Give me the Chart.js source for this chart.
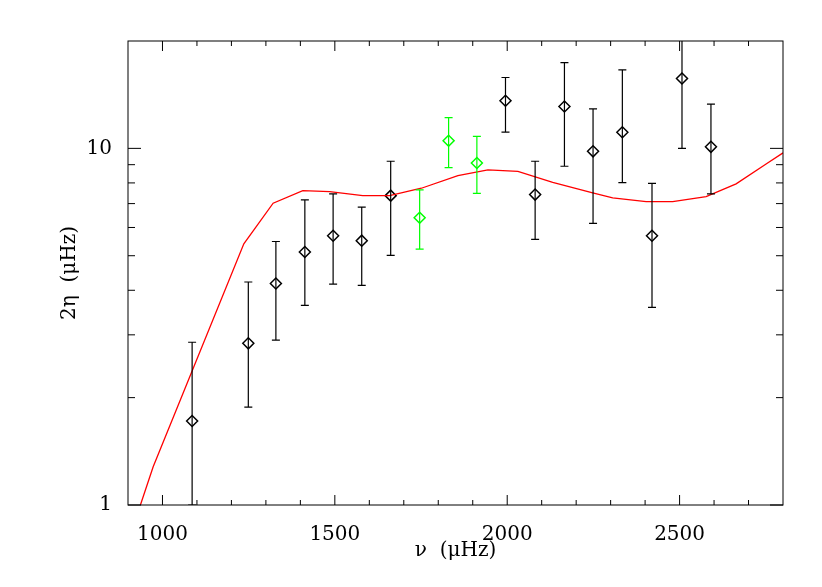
<!DOCTYPE html>
<html>
<head>
<meta charset="utf-8">
<script src="https://cdn.jsdelivr.net/npm/chart.js@4.4.0/dist/chart.umd.min.js"></script>
<style>
  body { margin: 0; background: #fff; }
  canvas { display: block; }
</style>
</head>
<body>
<canvas id="chart" width="822" height="587"></canvas>
<script>
// observed widths (black), with error bar limits
const freqBlack = [1086, 1249, 1329, 1413, 1495, 1578, 1662, 1995, 2081, 2166, 2249, 2334, 2420, 2507, 2591];
const widthBlack = [1.72, 2.84, 4.18, 5.12, 5.69, 5.51, 7.37, 13.6, 7.42, 13.1, 9.81, 11.1, 5.69, 15.7, 10.1];
const lowBlack = [1.0, 1.88, 2.90, 3.63, 4.16, 4.13, 5.01, 11.1, 5.56, 8.91, 6.16, 8.02, 3.58, 10.0, 7.45];
const highBlack = [2.86, 4.22, 5.48, 7.17, 7.45, 6.84, 9.20, 15.8, 9.20, 17.4, 12.9, 16.6, 7.98, 24.6, 13.3];

// green points
const freqGreen = [1746, 1830, 1912];
const widthGreen = [6.39, 10.5, 9.10];
const lowGreen = [5.22, 8.83, 7.48];
const highGreen = [7.65, 12.2, 10.8];

// model curve (red)
const freqModel = [936, 973, 1236, 1321, 1407, 1485, 1581, 1659, 1751, 1857, 1944, 2031, 2132, 2248, 2306, 2403, 2480, 2577, 2664, 2751, 2800];
const widthModel = [1.0, 1.28, 5.40, 7.02, 7.61, 7.56, 7.37, 7.37, 7.73, 8.39, 8.70, 8.62, 8.03, 7.50, 7.26, 7.09, 7.09, 7.32, 7.95, 9.04, 9.71];

// axes
const xMin = 900, xMax = 2800;
const yMin = 1, yMax = 20;
const xTicks = [1000, 1500, 2000, 2500];
const xMinorTicks = [1100, 1200, 1300, 1400, 1600, 1700, 1800, 1900, 2100, 2200, 2300, 2400, 2600, 2700];
const yTicks = [1, 10];
const yMinorTicks = [2, 3, 4, 5, 6, 7, 8, 9];

const serif = "'DejaVu Serif', serif";

function toPoints(xs, ys){
    return xs.map((x, i) => ({x: x, y: ys[i]}));
}

// error bars + box with inward ticks
const idlBox = {
    id: 'idlBox',
    afterDatasetsDraw(chart){
        let ctx = chart.ctx;
        let xs = chart.scales.x, ys = chart.scales.y;
        let area = chart.chartArea;

        ctx.save();
        ctx.beginPath();
        ctx.rect(area.left, area.top, area.right - area.left, area.bottom - area.top);
        ctx.clip();
        let bars = [
            [freqBlack, lowBlack, highBlack, '#000000'],
            [freqGreen, lowGreen, highGreen, '#00ff00']
        ];
        ctx.lineWidth = 1.2;
        bars.forEach(b => {
            ctx.strokeStyle = b[3];
            for(let i = 0; i < b[0].length; i++){
                let px = xs.getPixelForValue(b[0][i]);
                let pLo = ys.getPixelForValue(b[1][i]);
                let pHi = ys.getPixelForValue(b[2][i]);
                ctx.beginPath();
                ctx.moveTo(px, pLo);
                ctx.lineTo(px, pHi);
                ctx.moveTo(px - 4, pLo);
                ctx.lineTo(px + 4, pLo);
                ctx.moveTo(px - 4, pHi);
                ctx.lineTo(px + 4, pHi);
                ctx.stroke();
            }
        });
        ctx.restore();

        ctx.save();
        ctx.strokeStyle = '#000';
        ctx.lineWidth = 1;
        ctx.strokeRect(area.left, area.top, area.right - area.left, area.bottom - area.top);
        ctx.beginPath();
        function xt(v, len){
            let p = xs.getPixelForValue(v);
            ctx.moveTo(p, area.bottom); ctx.lineTo(p, area.bottom - len);
            ctx.moveTo(p, area.top); ctx.lineTo(p, area.top + len);
        }
        function yt(v, len){
            let p = ys.getPixelForValue(v);
            ctx.moveTo(area.left, p); ctx.lineTo(area.left + len, p);
            ctx.moveTo(area.right, p); ctx.lineTo(area.right - len, p);
        }
        xTicks.forEach(v => xt(v, 10));
        xMinorTicks.forEach(v => xt(v, 5));
        yTicks.forEach(v => yt(v, 13));
        yMinorTicks.forEach(v => yt(v, 7));
        ctx.stroke();
        ctx.restore();
    }
};

let config = {
    type : 'scatter',
    data : {
        datasets : [
            {
                type : 'line',
                data : toPoints(freqModel, widthModel),
                borderColor : '#ff0000',
                borderWidth : 1.3,
                pointRadius : 0,
                tension : 0,
                fill : false
            },
            {
                data : toPoints(freqBlack, widthBlack),
                pointStyle : 'rectRot',
                pointRadius : 5.5,
                borderColor : '#000000',
                backgroundColor : 'rgba(0,0,0,0)',
                borderWidth : 1.5
            },
            {
                data : toPoints(freqGreen, widthGreen),
                pointStyle : 'rectRot',
                pointRadius : 5.5,
                borderColor : '#00ff00',
                backgroundColor : 'rgba(0,0,0,0)',
                borderWidth : 1.5
            }
        ]
    },
    options : {
        responsive : false,
        animation : false,
        layout : { padding : {left : 0, right : 39, top : 41, bottom : 0} },
        plugins : {
            legend : {display : false},
            tooltip : {enabled : false}
        },
        scales : {
            x : {
                type : 'linear',
                min : xMin,
                max : xMax,
                afterFit : s => { s.height = 82; },
                afterBuildTicks : s => { s.ticks = xTicks.map(v => ({value : v})); },
                grid : {display : false},
                border : {display : false},
                ticks : {
                    color : '#000',
                    padding : 10,
                    maxRotation : 0,
                    font : {family : serif, size : 20},
                    callback : v => String(v)
                },
                title : {
                    display : true,
                    text : 'ν  (μHz)',
                    color : '#000',
                    font : {family : serif, size : 20},
                    padding : {top : 0, bottom : 24}
                }
            },
            y : {
                type : 'logarithmic',
                min : yMin,
                max : yMax,
                afterFit : s => { s.width = 128; },
                afterBuildTicks : s => { s.ticks = yTicks.map(v => ({value : v})); },
                grid : {display : false},
                border : {display : false},
                ticks : {
                    color : '#000',
                    padding : 8,
                    font : {family : serif, size : 20},
                    callback : v => String(v)
                },
                title : {
                    display : true,
                    text : '2η  (μHz)',
                    color : '#000',
                    font : {family : serif, size : 20},
                    padding : {top : 58, bottom : 0}
                }
            }
        }
    },
    plugins : [idlBox]
};

let chart = new Chart(document.getElementById('chart').getContext('2d'), config);
</script>
</body>
</html>
